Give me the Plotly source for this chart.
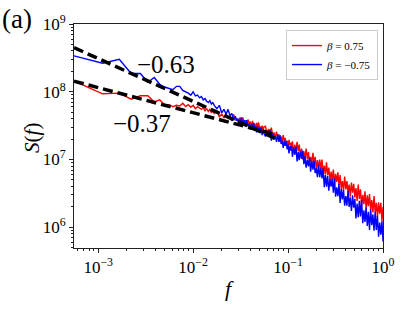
import math
import plotly.graph_objects as go

# ---------------- data ----------------
N_FREQ = 1800  # spectral resolution: f = k / N_FREQ

k_index = (
    list(range(1, 31))
    + [32, 34, 36, 38, 40, 42, 44, 46, 48, 50, 52, 54, 56, 58, 60, 62, 64, 66, 68, 70,
       72, 74, 76, 78, 80, 82, 84, 86, 88, 90, 92, 94, 96, 98, 100]
    + [104, 108, 112, 116, 120, 124, 128, 132, 136, 140, 144, 148, 152, 156, 160, 164,
       168, 172, 176, 180, 184, 188, 192, 196]
    + [200, 206, 212, 218, 224, 230, 236, 243, 250, 257, 264, 271, 279, 287, 295, 303,
       311, 320, 329, 338, 347, 357, 367, 377, 388, 399, 410, 421, 433, 445, 457, 470,
       483, 497, 511, 525, 540, 555, 570, 586, 602, 619, 636, 654, 672, 691, 710, 730,
       750, 771, 792, 814, 837, 860, 884, 909, 934, 960, 987, 1014, 1042, 1071, 1101,
       1132, 1163, 1196, 1229, 1263, 1298, 1334, 1371, 1409, 1448, 1489, 1530, 1573,
       1617, 1662, 1708, 1755, 1800]
)

# log10 S(f), beta = 0.75 (red)
red_logS = [
    8.16, 7.97, 7.98, 7.89, 7.94, 7.94, 7.85, 7.88, 7.81, 7.81, 7.78, 7.80, 7.79, 7.83, 7.78,
    7.81, 7.77, 7.80, 7.75, 7.78, 7.76, 7.74, 7.77, 7.72, 7.75, 7.71, 7.74, 7.69, 7.72, 7.68,
    7.71, 7.63, 7.67, 7.62, 7.68, 7.61, 7.64, 7.57, 7.67, 7.58, 7.61, 7.54, 7.62, 7.55, 7.62,
    7.54, 7.58, 7.49, 7.59, 7.53, 7.56, 7.49, 7.57, 7.50, 7.53, 7.45, 7.54, 7.47, 7.55, 7.46,
    7.49, 7.43, 7.50, 7.43, 7.48,
    7.49, 7.37, 7.45, 7.39, 7.47, 7.35, 7.40, 7.32, 7.41, 7.32, 7.37, 7.26, 7.34, 7.27, 7.36,
    7.27, 7.32, 7.21, 7.28, 7.18, 7.29, 7.21, 7.25, 7.17,
    7.27, 7.10, 7.22, 7.11, 7.26, 7.12, 7.22, 7.05, 7.16, 7.00,
    7.12, 7.00, 7.16, 7.01, 7.11, 6.95, 7.04, 6.95, 7.10, 6.94,
    7.04, 6.86, 6.99, 6.86, 7.00, 6.87, 7.00, 6.78, 6.91, 6.78,
    6.96, 6.77, 6.88, 6.69, 6.82, 6.69, 6.85, 6.63, 6.79, 6.67,
    6.81, 6.62, 6.77, 6.57, 6.68, 6.54, 6.75, 6.56, 6.68, 6.51,
    6.63, 6.45, 6.66, 6.51, 6.64, 6.44, 6.58, 6.39, 6.63, 6.42,
    6.56, 6.32, 6.48, 6.34, 6.53, 6.26, 6.47, 6.31, 6.49, 6.26,
    6.40, 6.22, 6.46, 6.22, 6.36, 6.15, 6.37, 6.20, 6.36, 6.09,
    6.30,
]

# log10 S(f), beta = -0.75 (blue)
blue_logS = [
    8.53, 8.42, 8.48, 8.27, 8.27, 8.14, 8.21, 8.11, 8.07, 8.05, 8.03, 8.08, 8.08, 8.02, 8.00,
    7.98, 7.95, 8.00, 7.94, 7.95, 7.91, 7.93, 7.88, 7.90, 7.86, 7.84, 7.87, 7.82, 7.84, 7.80,
    7.75, 7.80, 7.69, 7.74, 7.67, 7.74, 7.65, 7.68, 7.58, 7.64, 7.57, 7.60, 7.52, 7.62, 7.54,
    7.58, 7.50, 7.58, 7.49, 7.53, 7.45, 7.53, 7.47, 7.54, 7.44, 7.49, 7.40, 7.49, 7.42, 7.47,
    7.39, 7.47, 7.36, 7.43, 7.39,
    7.34, 7.43, 7.35, 7.44, 7.28, 7.38, 7.29, 7.35, 7.26, 7.37, 7.26, 7.36, 7.23, 7.28, 7.17,
    7.28, 7.20, 7.27, 7.15, 7.22, 7.09, 7.20, 7.13, 7.20,
    7.04, 7.18, 7.07, 7.19, 6.97, 7.11, 6.99, 7.12, 7.01, 7.13,
    6.93, 7.05, 6.88, 7.00, 6.90, 7.03, 6.82, 6.98, 6.85, 6.98,
    6.80, 6.87, 6.74, 6.92, 6.74, 6.88, 6.72, 6.87, 6.59, 6.77,
    6.60, 6.76, 6.54, 6.71, 6.60, 6.72, 6.51, 6.72, 6.45, 6.59,
    6.46, 6.64, 6.36, 6.57, 6.41, 6.55, 6.32, 6.46, 6.32, 6.54,
    6.30, 6.44, 6.24, 6.47, 6.29, 6.42, 6.13, 6.35, 6.15, 6.39,
    6.16, 6.40, 6.06, 6.25, 6.08, 6.29, 6.02, 6.23, 5.96, 6.27,
    6.03, 6.19, 5.95, 6.23, 5.96, 6.17, 5.86, 6.07, 5.89, 6.09,
    5.79,
]

# power-law fits (end points of the dashed lines)
fit_f = [1 / 1800, 0.0757]
fit_steep_S = [4.48e8, 2.01e7]    # slope -0.63
fit_shallow_S = [1.43e8, 2.32e7]  # slope -0.37
fit_labels = ["\u22120.63", "\u22120.37"]

series_names = ["<i>\u03b2</i> = 0.75", "<i>\u03b2</i> = \u22120.75"]

x_tickvals = [1e-3, 1e-2, 1e-1, 1]
x_ticktext = ["10<sup>\u22123</sup>", "10<sup>\u22122</sup>", "10<sup>\u22121</sup>", "10<sup>0</sup>"]
y_tickvals = [1e6, 1e7, 1e8, 1e9]
y_ticktext = ["10<sup>6</sup>", "10<sup>7</sup>", "10<sup>8</sup>", "10<sup>9</sup>"]

# ---------------- figure ----------------
freq = [k / N_FREQ for k in k_index]
red_S = [10 ** v for v in red_logS]
blue_S = [10 ** v for v in blue_logS]

FONT = "Liberation Serif, DejaVu Serif, serif"

fig = go.Figure()
fig.add_trace(go.Scatter(x=freq, y=red_S, mode="lines", name=series_names[0],
                         line=dict(color="#ff0000", width=1.4)))
fig.add_trace(go.Scatter(x=freq, y=blue_S, mode="lines", name=series_names[1],
                         line=dict(color="#0000ff", width=1.4)))
for ys in (fit_steep_S, fit_shallow_S):
    fig.add_trace(go.Scatter(x=fit_f, y=ys, mode="lines", showlegend=False,
                             line=dict(color="black", width=3.5, dash="10px,5px")))

minor_x = [d * 10 ** e for e in range(-4, 0) for d in range(2, 10)]
minor_y = [d * 10 ** e for e in range(5, 9) for d in range(2, 10)]

axis_common = dict(
    type="log", showgrid=False, zeroline=False, showline=True, linecolor="#222",
    linewidth=1, mirror=True, ticks="outside", ticklen=4, tickwidth=1, tickcolor="#222",
    tickfont=dict(family=FONT, size=17, color="black"),
)
fig.update_xaxes(**axis_common, range=[math.log10(1 / 1800), 0],
                 tickvals=x_tickvals, ticktext=x_ticktext,
                 minor=dict(tickvals=minor_x, ticks="outside", ticklen=2, tickcolor="#222",
                            showgrid=False))
fig.update_yaxes(**axis_common, range=[5.694, 9],
                 tickvals=y_tickvals, ticktext=y_ticktext,
                 minor=dict(tickvals=minor_y, ticks="outside", ticklen=2, tickcolor="#222",
                            showgrid=False))

def label(text, x, y, size, angle=0):
    fig.add_annotation(text=text, xref="paper", yref="paper", x=x, y=y,
                       xanchor="center", yanchor="middle", textangle=angle,
                       showarrow=False, font=dict(family=FONT, size=size, color="black"))

label(fit_labels[0], 0.299, 0.819, 25)
label(fit_labels[1], 0.219, 0.555, 25)
label("(a)", -0.183, 1.022, 27)
label("<i>S</i>(<i>f</i>)", -0.138, 0.493, 21, -90)
label("<i>f</i>", 0.502, -0.181, 22)

fig.update_layout(
    width=407, height=317,
    margin=dict(l=74, r=22, t=21, b=69),
    paper_bgcolor="white", plot_bgcolor="white",
    legend=dict(x=0.984, xanchor="right", y=0.973, yanchor="top",
                bgcolor="white", bordercolor="#cccccc", borderwidth=1,
                font=dict(family=FONT, size=11, color="black"),
                itemwidth=30, tracegroupgap=0),
)

fig.write_html("out.html", config={"displayModeBar": False},
               post_script="document.body.style.margin='0';document.body.style.overflow='hidden';")
